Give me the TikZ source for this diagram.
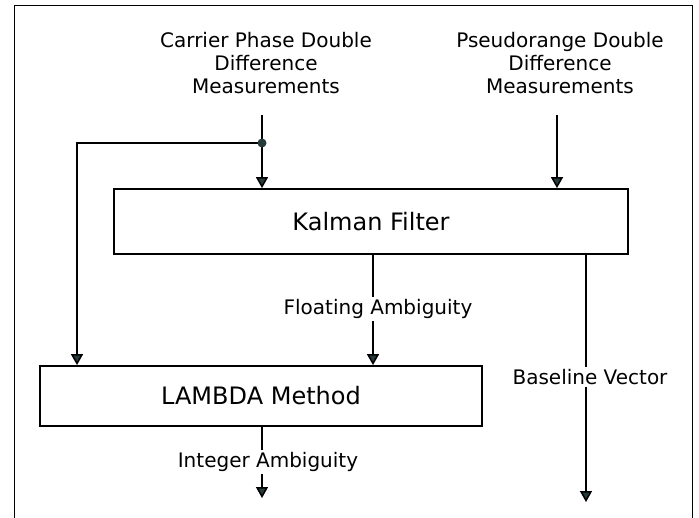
\documentclass[tikz,border=0pt]{standalone}
\usepackage{fontspec}
\setmainfont{DejaVu Sans}
\usetikzlibrary{arrows.meta}

\definecolor{tipgray}{RGB}{38,58,58}

\tikzset{
  block/.style={draw, line width=1.8pt, inner sep=0pt, font=\fontsize{24}{28}\selectfont},
  lbl/.style={font=\fontsize{20}{23}\selectfont, align=center, inner sep=2pt},
  line/.style={line width=1.5pt},
  flow/.style={line, -{Triangle[width=12pt,length=11pt,fill=tipgray]}},
}

\begin{document}
\begin{tikzpicture}[x=1pt,y=-1pt]
\useasboundingbox (0,0) rectangle (699,518);
% Draw the open frame round the diagram
\draw[line width=1pt] (14,518) -- (14,6) -- (692,6) -- (692,518);
% Draw the two processing blocks
\node[block, minimum width=514pt, minimum height=65pt] (kalman) at (371,221.5) {Kalman Filter};
\node[block, minimum width=442pt, minimum height=60pt] (lambda) at (261,396) {LAMBDA Method};
% Draw the measurement inputs and the signal labels
\node[lbl] (carrier) at (266,63) {Carrier Phase Double\\Difference\\Measurements};
\node[lbl] (pseudo) at (560,63) {Pseudorange Double\\Difference\\Measurements};
\node[lbl] (floating) at (378,309) {Floating Ambiguity};
\node[lbl] (integer) at (268,462) {Integer Ambiguity};
\node[lbl] (baseline) at (590,377) {Baseline Vector};
% Points where the lines split or leave the picture
\coordinate (cin) at (262,115);
\coordinate (split) at (262,143);
\coordinate (bend) at (77,143);
\coordinate (pin) at (557,115);
\coordinate (intout) at (262,498);
\coordinate (baseout) at (586,502);
% Draw the carrier phase input and its branch to the LAMBDA block
\draw[flow] (cin) -- (kalman.north -| cin);
\draw[flow] (split) -- (bend) -- (bend |- lambda.north);
\fill[tipgray] (split) circle (4.5pt);
% Draw the pseudorange input
\draw[flow] (pin) -- (kalman.north -| pin);
% Draw the floating ambiguity from the filter to the LAMBDA block
\draw[line] (kalman.south -| 373,0) -- (floating.north -| 373,0);
\draw[flow] (floating.south -| 373,0) -- (lambda.north -| 373,0);
% Draw the integer ambiguity output
\draw[line] (lambda.south -| intout) -- (integer.north -| intout);
\draw[flow] (integer.south -| intout) -- (intout);
% Draw the baseline vector output
\draw[line] (kalman.south -| baseout) -- (baseline.north -| baseout);
\draw[flow] (baseline.south -| baseout) -- (baseout);
\end{tikzpicture}
\end{document}
